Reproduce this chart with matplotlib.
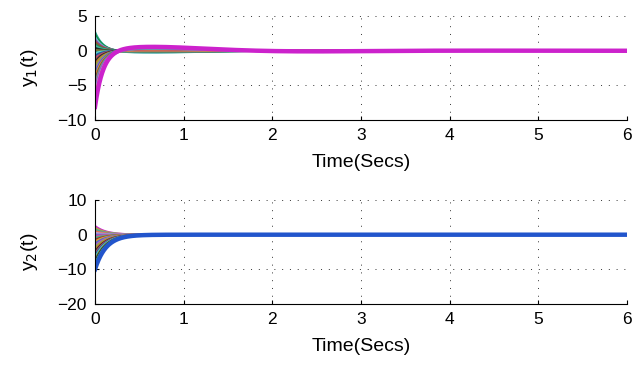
import numpy as np
import matplotlib.pyplot as plt

plt.rcParams['font.family'] = ['Liberation Sans', 'DejaVu Sans']

# initial values of the trajectories
y1_start = [2.7, 2.3, 2.0, 1.6, 1.3, 1.0, 0.7, 0.4, 0.1, -0.3, -0.7, -1.1,
            -1.6, -2.0, -2.5, -3.0, -3.4, -3.9, -4.4, -4.9, -5.4, -5.9,
            -6.4, -6.9, -7.4, -7.9, -8.1]
# size of the slow hump after the fast decay (relative to start value)
y1_hump = [0.2, 0.16, 0.22, 0.11, 0.18, 0.27, 0.14, 0.45, 1.4, -0.55, 0.27,
           0.09, 0.18, 0.05, 0.14, 0.09, 0.18, 0.07, 0.11, 0.13, 0.09, 0.14,
           0.11, 0.13, 0.09, 0.13, 0.15]
y2_start = [2.5, 2.0, 1.5, 1.0, 0.5, 0.0, -0.5, -1.0, -1.5, -2.0, -2.6,
            -3.2, -3.8, -4.4, -5.0, -5.6, -6.2, -6.8, -7.4, -8.0, -8.6,
            -9.2, -10.0]
colors = ['#1f9e8a', '#0a8f2a', '#6fb7d8', '#8a4f9e', '#a0522d', '#2e8b57',
          '#3cb7a0', '#2b2b2b', '#7a7a3a', '#5ad6c8', '#1f5fa0', '#c04a6a',
          '#303030', '#d07a2a', '#8ab04a', '#b05ad0', '#4a70c0', '#e0a030',
          '#a03030', '#40c080', '#d0509a', '#6a6ad8', '#c0a0d0', '#e07050',
          '#50a0a0', '#b0b040', '#cc22cc']
last_top = '#cc22cc'
last_bot = '#2255cc'

t = np.linspace(0, 6, 1500)
p = 11.0              # fast decay of y1
s, w = 1.0, 1.7       # slow damped hump of y1
b = 8.0               # decay rate of y2

fig = plt.figure(figsize=(6.44, 3.66), dpi=100)
ax1 = fig.add_axes([0.1475, 0.672, 0.826, 0.284])
ax2 = fig.add_axes([0.1475, 0.1694, 0.826, 0.284])

for i, y0 in enumerate(y1_start):
    y = y0 * (np.exp(-p * t) - y1_hump[i] * np.exp(-s * t) * np.sin(w * t))
    last = i == len(y1_start) - 1
    ax1.plot(t, y, color=last_top if last else colors[i % len(colors)],
             lw=3.2 if last else 1.6)

for i, y0 in enumerate(y2_start):
    y = y0 * np.exp(-b * t)
    last = i == len(y2_start) - 1
    ax2.plot(t, y, color=last_bot if last else colors[-(i % len(colors)) - 1],
             lw=3.2 if last else 1.6)

for ax, lim, ticks, lab in [(ax1, (-10, 5), [-10, -5, 0, 5], 'y$_1$(t)'),
                            (ax2, (-20, 10), [-20, -10, 0, 10], 'y$_2$(t)')]:
    ax.set_xlim(0, 6)
    ax.set_ylim(*lim)
    ax.set_yticks(ticks)
    ax.set_xticks(range(7))
    ax.grid(True, color='#333333', linestyle=(0, (1, 7)), lw=0.7)
    ax.spines['top'].set_visible(False)
    ax.spines['right'].set_visible(False)
    ax.tick_params(direction='in', labelsize=12.5, length=3, pad=6)
    ax.set_xlabel('Time(Secs)', fontsize=14, labelpad=8)
    ax.set_ylabel(lab, fontsize=14, labelpad=12)

fig.savefig('out.png', dpi=100)
